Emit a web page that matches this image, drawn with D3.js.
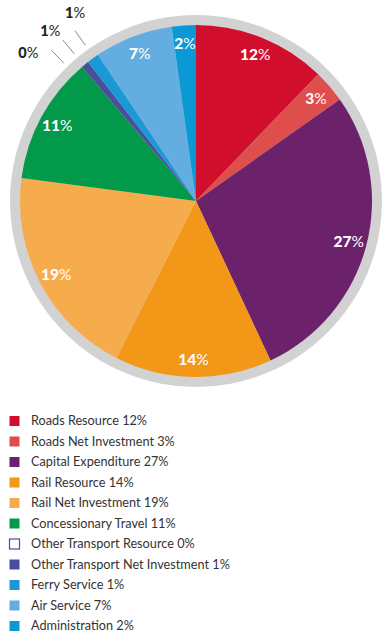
<!DOCTYPE html>
<html><head><meta charset="utf-8">
<script src="https://cdn.jsdelivr.net/npm/d3@7"></script>
<style>
html,body{margin:0;padding:0;background:#fff;}
svg{display:block;}
</style></head>
<body>
<svg id="chart" width="390" height="638"></svg>
<script>
const categories = ["Roads Resource","Roads Net Investment","Capital Expenditure","Rail Resource","Rail Net Investment","Concessionary Travel","Other Transport Resource","Other Transport Net Investment","Ferry Service","Air Service","Administration"];
const values = [12.2, 3.0, 27.8, 14.4, 19.6, 11.7, 0.0, 0.7, 1.1, 7.2, 2.2];
const labels = ["12","3","27","14","19","11","0","1","1","7","2"];
const colors = ["#d20e2d","#de4e4c","#6b226b","#f39719","#f6ac4c","#03994a","#ffffff","#4a4f9d","#1b98d6","#63ade1","#0b99d6"];
const outside = [false,false,false,false,false,false,true,true,true,false,false];

const svg = d3.select("#chart");
const cx = 196, cy = 201, R = 176, ringR = 186;

svg.append("circle").attr("cx",cx).attr("cy",cy).attr("r",ringR).attr("fill","#d2d2d2");

const pie = d3.pie().sort(null).value(d=>d.v);
const data = categories.map((c,i)=>({c, v:values[i], l:labels[i], col:colors[i], out:outside[i]}));
const arcs = pie(data);
const arc = d3.arc().innerRadius(0).outerRadius(R);
const labelArc = d3.arc().innerRadius(158).outerRadius(158);

const g = svg.append("g").attr("transform",`translate(${cx},${cy})`);
g.selectAll("path.slice").data(arcs.filter(a=>a.data.v>0)).join("path")
  .attr("class","slice").attr("d",arc).attr("fill",d=>d.data.col);

const FONT = "Lato, 'Open Sans', sans-serif";
// inside labels
const inside = g.selectAll("text.in").data(arcs.filter(a=>!a.data.out)).join("text")
  .attr("class","in")
  .attr("transform",d=>`translate(${labelArc.centroid(d)})`)
  .attr("text-anchor","middle").attr("dy","0.36em")
  .attr("font-family",FONT).attr("font-size",15.5).attr("fill","#fff");
inside.append("tspan").attr("font-weight",900).text(d=>d.data.l);
inside.append("tspan").attr("font-weight",400).text("%");

// outside labels: fan out around the middle small slice
const outs = arcs.filter(a=>a.data.out).map(a=>({a, mid:(a.startAngle+a.endAngle)/2}));
const centre = outs[Math.floor(outs.length/2)].mid;
const deg = Math.PI/180;
outs.forEach((d,i)=>{
  const k = i - (outs.length-1)/2;
  d.lead = centre - 0.5*deg + k*4.2*deg;
  d.txt = centre - 1.5*deg + k*7.9*deg;
});
const pt = (ang,r)=>[Math.sin(ang)*r, -Math.cos(ang)*r];
g.selectAll("line.lead").data(outs).join("line").attr("class","lead")
  .attr("x1",d=>pt(d.lead,191)[0]).attr("y1",d=>pt(d.lead,191)[1])
  .attr("x2",d=>pt(d.lead,209)[0]).attr("y2",d=>pt(d.lead,209)[1])
  .attr("stroke","#8a8a8a").attr("stroke-width",1);
const ot = g.selectAll("text.out").data(outs).join("text").attr("class","out")
  .attr("transform",d=>`translate(${pt(d.txt,224)})`)
  .attr("text-anchor","middle").attr("dy","0.36em")
  .attr("font-family",FONT).attr("font-size",14.5).attr("fill","#222");
ot.append("tspan").attr("font-weight",900).text(d=>d.a.data.l);
ot.append("tspan").attr("font-weight",400).text("%");

// legend
const rowY = d3.scalePoint().domain(categories).range([421,626]);
const lg = svg.append("g");
const rows = lg.selectAll("g.row").data(data).join("g").attr("class","row")
  .attr("transform",d=>`translate(0,${rowY(d.c)})`);
rows.append("rect").attr("x",9.5).attr("y",-5).attr("width",10).attr("height",10)
  .attr("fill",d=>d.col).attr("stroke",d=>d.v===0?"#4a4f9d":"none").attr("stroke-width",1.2);
rows.append("text").attr("x",31).attr("dy","0.35em")
  .attr("font-family",FONT).attr("font-size",12.7).attr("fill","#333")
  .text(d=>`${d.c} ${d.l}%`);
</script>
</body></html>
